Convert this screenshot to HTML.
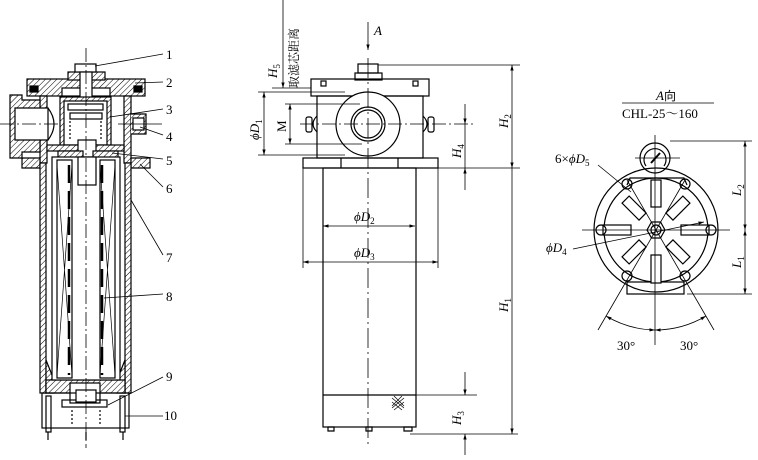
<!DOCTYPE html>
<html><head><meta charset="utf-8"><style>
html,body{margin:0;padding:0;background:#fff;}
svg{display:block;}
text{font-family:"Liberation Serif","Noto Serif CJK SC",serif;fill:#000;}
</style></head><body>
<svg width="758" height="460" viewBox="0 0 758 460" xmlns="http://www.w3.org/2000/svg">
<defs>
<pattern id="h" width="4" height="4" patternUnits="userSpaceOnUse" patternTransform="rotate(45)">
<rect width="4" height="4" fill="#fff"/><line x1="0" y1="0" x2="0" y2="4" stroke="#000" stroke-width="1"/></pattern>
<marker id="a" viewBox="0 0 10 10" refX="10" refY="5" markerWidth="7" markerHeight="7" orient="auto-start-reverse"><path d="M0,2 L10,5 L0,8 z" fill="#000"/></marker>
</defs>
<g fill="none" stroke="#000" stroke-width="1.2">
<!-- LEFT section view -->
<!-- top cover -->
<rect x="27" y="79" width="118" height="17" fill="url(#h)"/>
<rect x="68" y="72" width="37" height="8" fill="url(#h)"/>
<rect x="62" y="88" width="48" height="8" fill="#fff"/>
<rect x="30" y="86" width="8" height="6" fill="#000"/>
<rect x="134" y="86" width="8" height="6" fill="#000"/>
<rect x="75" y="64" width="21" height="8" fill="#fff"/>
<rect x="80" y="72" width="12" height="26" fill="#fff"/>
<!-- head body -->
<path d="M40,96 H47 V163 H40 Z" fill="url(#h)"/>
<path d="M124,96 H131 V163 H124 Z" fill="url(#h)"/>
<path d="M10,95 H22 V100 H40 V152 H22 V158 H10 Z" fill="url(#h)"/>
<path d="M15,108 H48 V140 H15 Z" fill="#fff"/>
<path d="M48,108 Q60,124 48,140"/>
<path d="M131,114 H146 V134 H131" fill="url(#h)"/>
<rect x="133" y="118" width="11" height="12" fill="#fff"/>
<!-- internal bypass valve -->
<rect x="60" y="97" width="51" height="52" fill="url(#h)"/>
<rect x="64" y="101" width="43" height="44" fill="#fff"/>
<rect x="68" y="104" width="35" height="6"/>
<rect x="70" y="113" width="32" height="6"/>
<line x1="70" y1="121" x2="70" y2="140" stroke-dasharray="2,2"/>
<line x1="101" y1="121" x2="101" y2="140" stroke-dasharray="2,2"/>
<rect x="47" y="145" width="77" height="6" fill="url(#h)"/>
<rect x="78" y="140" width="18" height="45" fill="#fff"/>
<rect x="58" y="151" width="25" height="8" fill="url(#h)"/>
<rect x="93" y="151" width="25" height="8" fill="url(#h)"/>
<!-- flange 6 -->
<path d="M22,158 H40 V168 H22 Z" fill="url(#h)"/>
<path d="M131,158 H150 V168 H131 Z" fill="url(#h)"/>
<!-- tube -->
<rect x="40" y="163" width="6" height="230" fill="url(#h)"/>
<rect x="125" y="163" width="6" height="230" fill="url(#h)"/>
<path d="M46,360 L54,380 V393 H46 Z" fill="url(#h)"/>
<path d="M125,360 L117,380 V393 H125 Z" fill="url(#h)"/>
<rect x="46" y="380" width="79" height="13" fill="url(#h)"/>
<rect x="70" y="383" width="30" height="20" fill="#fff"/>
<!-- element -->
<rect x="52" y="157" width="68" height="223" fill="#fff"/>
<rect x="57" y="160" width="15" height="218"/>
<rect x="100" y="160" width="15" height="218"/>
<rect x="78" y="157" width="18" height="28" fill="#fff"/>
<path d="M57,165 L72,375 M72,165 L57,375 M100,165 L115,375 M115,165 L100,375" stroke-width="0.7"/>
<line x1="69" y1="165" x2="69" y2="375" stroke-width="2.5" stroke-dasharray="18,8"/>
<line x1="102" y1="165" x2="102" y2="375" stroke-width="2.5" stroke-dasharray="18,8"/>
<!-- bottom -->
<rect x="42" y="393" width="87" height="35"/>
<rect x="62" y="400" width="45" height="7"/>
<rect x="76" y="390" width="20" height="12" fill="#fff"/>
<line x1="72" y1="410" x2="72" y2="425" stroke-dasharray="2,2"/>
<line x1="100" y1="410" x2="100" y2="425" stroke-dasharray="2,2"/>
<rect x="46" y="396" width="5" height="36"/>
<rect x="120" y="396" width="5" height="36"/>
<line x1="48" y1="432" x2="48" y2="440"/><line x1="86" y1="432" x2="86" y2="440"/><line x1="123" y1="432" x2="123" y2="440"/>
<line x1="86" y1="48" x2="86" y2="448" stroke-width="0.8" stroke-dasharray="14,3,2,3"/>
<line x1="0" y1="124" x2="58" y2="124" stroke-width="0.8" stroke-dasharray="14,3,2,3"/>
<line x1="118" y1="124" x2="162" y2="124" stroke-width="0.8"/>
<!-- leaders -->
<g stroke-width="0.8">
<line x1="95" y1="66" x2="163" y2="54"/><line x1="135" y1="83" x2="163" y2="82"/>
<line x1="110" y1="117" x2="163" y2="109"/><line x1="140" y1="127" x2="163" y2="135"/>
<line x1="112" y1="153" x2="163" y2="159"/><line x1="140" y1="164" x2="163" y2="187"/>
<line x1="131" y1="200" x2="163" y2="255"/><line x1="104" y1="298" x2="163" y2="294"/>
<line x1="108" y1="405" x2="163" y2="377"/><line x1="125" y1="416" x2="163" y2="416"/>
</g>

<!-- MIDDLE view -->
<line x1="368" y1="22" x2="368" y2="50" marker-end="url(#a)" stroke-width="0.8"/>
<rect x="358" y="64" width="20" height="9"/>
<rect x="355" y="73" width="27" height="7"/>
<rect x="311" y="79" width="118" height="17"/>
<rect x="321" y="81" width="5" height="5"/><rect x="413" y="81" width="5" height="5"/>
<rect x="317" y="96" width="106" height="62"/>
<circle cx="368" cy="124" r="32" fill="#fff"/>
<circle cx="368" cy="124" r="17"/><circle cx="368" cy="124" r="14"/>
<path d="M317,116 Q309,124 317,132 M423,116 Q431,124 423,132"/>
<rect x="306" y="117" width="6" height="15" rx="2"/><rect x="428" y="117" width="6" height="15" rx="2"/>
<line x1="300" y1="124" x2="475" y2="124" stroke-width="0.8" stroke-dasharray="14,3,2,3"/>
<rect x="303" y="158" width="135" height="10"/>
<line x1="341" y1="158" x2="341" y2="168"/><line x1="398" y1="158" x2="398" y2="168"/>
<rect x="323" y="168" width="93" height="259"/>
<line x1="323" y1="395" x2="416" y2="395"/>
<path d="M392,398 l12,10 M392,402 l10,8 M394,396 l10,10 M404,398 l-12,10 M404,402 l-10,8 M402,396 l-10,10" stroke-width="0.7"/>
<path d="M328,427 h6 v4 h-6z M366,427 h6 v4 h-6z M404,427 h8 v4 h-8z"/>
<line x1="368" y1="58" x2="368" y2="445" stroke-width="0.8" stroke-dasharray="20,4,2,4"/>
<!-- dimensions -->
<g stroke-width="0.8">
<line x1="283" y1="0" x2="283" y2="88" marker-end="url(#a)"/>
<line x1="272" y1="88" x2="311" y2="88"/>
<line x1="258" y1="92" x2="345" y2="92"/><line x1="258" y1="155" x2="345" y2="155"/>
<line x1="264" y1="92" x2="264" y2="155" marker-start="url(#a)" marker-end="url(#a)"/>
<line x1="285" y1="104" x2="360" y2="104"/><line x1="285" y1="144" x2="362" y2="144"/>
<line x1="290" y1="104" x2="290" y2="144" marker-start="url(#a)" marker-end="url(#a)"/>
<line x1="465" y1="104" x2="465" y2="124" marker-end="url(#a)"/>
<line x1="465" y1="190" x2="465" y2="168" marker-end="url(#a)"/>
<line x1="438" y1="168" x2="520" y2="168"/>
<line x1="465" y1="124" x2="465" y2="168"/>
<line x1="378" y1="65" x2="520" y2="65"/>
<line x1="512" y1="65" x2="512" y2="168" marker-start="url(#a)" marker-end="url(#a)"/>
<line x1="512" y1="168" x2="512" y2="434" marker-end="url(#a)"/>
<line x1="410" y1="434" x2="518" y2="434"/>
<line x1="416" y1="395" x2="477" y2="395"/>
<line x1="465" y1="372" x2="465" y2="395" marker-end="url(#a)"/>
<line x1="465" y1="455" x2="465" y2="434" marker-end="url(#a)"/>
<line x1="323" y1="226" x2="415" y2="226" marker-start="url(#a)" marker-end="url(#a)"/>
<line x1="303" y1="168" x2="303" y2="268"/><line x1="438" y1="168" x2="438" y2="268"/>
<line x1="303" y1="262" x2="438" y2="262" marker-start="url(#a)" marker-end="url(#a)"/>
</g>

<!-- RIGHT view -->
<line x1="622" y1="103" x2="714" y2="103" stroke-width="0.8"/>
<circle cx="655" cy="158" r="15" fill="#fff"/>
<path d="M646,166 A11,11 0 1 1 664,166"/>
<line x1="651" y1="163" x2="660" y2="153" stroke-width="2"/>
<line x1="635" y1="158" x2="680" y2="158" stroke-width="0.7"/>
<circle cx="656" cy="230" r="62"/>
<circle cx="656" cy="230" r="52"/>
<path d="M627,185 L630,178 H684 L687,185"/>
<rect x="627" y="282" width="57" height="12"/>
<g fill="#fff">
<rect x="651" y="180" width="10" height="27"/><rect x="651" y="255" width="10" height="28"/>
<rect x="603" y="225" width="28" height="10"/><rect x="681" y="225" width="28" height="10"/>
<rect x="613" y="225" width="24" height="10" transform="rotate(45 656 230)"/>
<rect x="675" y="225" width="24" height="10" transform="rotate(45 656 230)"/>
<rect x="613" y="225" width="24" height="10" transform="rotate(-45 656 230)"/>
<rect x="675" y="225" width="24" height="10" transform="rotate(-45 656 230)"/>
</g>
<circle cx="601" cy="230" r="5"/><circle cx="711" cy="230" r="5"/>
<circle cx="627" cy="184" r="5"/><circle cx="685" cy="184" r="5"/>
<circle cx="627" cy="276" r="5"/><circle cx="685" cy="276" r="5"/>
<polygon points="665,230 660.5,238 651.5,238 647,230 651.5,222 660.5,222" fill="#fff"/>
<circle cx="656" cy="230" r="5"/>
<line x1="582" y1="230" x2="730" y2="230" stroke-width="0.8"/>
<line x1="655" y1="135" x2="655" y2="345" stroke-width="0.8"/>
<g stroke-width="0.8">
<line x1="598" y1="330" x2="685" y2="180"/><line x1="714" y1="330" x2="627" y2="180"/>
<path d="M606,316 A100,100 0 0 0 655,330" marker-start="url(#a)" marker-end="url(#a)"/>
<path d="M706,316 A100,100 0 0 1 655,330" marker-start="url(#a)" marker-end="url(#a)"/>
<line x1="670" y1="141" x2="752" y2="141"/><line x1="687" y1="294" x2="752" y2="294"/>
<line x1="745" y1="141" x2="745" y2="230" marker-start="url(#a)" marker-end="url(#a)"/>
<line x1="745" y1="230" x2="745" y2="294" marker-start="url(#a)" marker-end="url(#a)"/>
<line x1="598" y1="165" x2="631" y2="192"/>
<line x1="573" y1="249" x2="704" y2="222" marker-end="url(#a)"/>
</g>
</g>
<!-- text -->
<g font-size="13">
<text x="166" y="59">1</text><text x="166" y="87">2</text><text x="166" y="114">3</text>
<text x="166" y="141">4</text><text x="166" y="165">5</text><text x="166" y="193">6</text>
<text x="166" y="262">7</text><text x="166" y="301">8</text><text x="166" y="381">9</text>
<text x="164" y="420">10</text>
<text x="374" y="35" font-style="italic">A</text>
<text transform="translate(277,78) rotate(-90)" font-style="italic">H<tspan font-size="9" dy="3" font-style="normal">5</tspan></text>
<text transform="translate(298,88) rotate(-90)" font-size="12" font-family="Noto Sans CJK SC,sans-serif">取滤芯距离</text>
<text transform="translate(259,140) rotate(-90)" font-style="italic">ϕD<tspan font-size="9" dy="3" font-style="normal">1</tspan></text>
<text transform="translate(286,132) rotate(-90)">M</text>
<text transform="translate(461,158) rotate(-90)" font-style="italic">H<tspan font-size="9" dy="3" font-style="normal">4</tspan></text>
<text transform="translate(508,128) rotate(-90)" font-style="italic">H<tspan font-size="9" dy="3" font-style="normal">2</tspan></text>
<text transform="translate(508,312) rotate(-90)" font-style="italic">H<tspan font-size="9" dy="3" font-style="normal">1</tspan></text>
<text transform="translate(461,425) rotate(-90)" font-style="italic">H<tspan font-size="9" dy="3" font-style="normal">3</tspan></text>
<text x="354" y="221" font-style="italic">ϕD<tspan font-size="9" dy="3" font-style="normal">2</tspan></text>
<text x="354" y="257" font-style="italic">ϕD<tspan font-size="9" dy="3" font-style="normal">3</tspan></text>
<text x="656" y="100" font-style="italic">A<tspan font-style="normal" font-family="Noto Sans CJK SC,sans-serif" font-size="12">向</tspan></text>
<text x="622" y="118">CHL-25～160</text>
<text x="555" y="163">6×<tspan font-style="italic">ϕD</tspan><tspan font-size="9" dy="3">5</tspan></text>
<text x="546" y="252" font-style="italic">ϕD<tspan font-size="9" dy="3" font-style="normal">4</tspan></text>
<text transform="translate(741,196) rotate(-90)" font-style="italic">L<tspan font-size="9" dy="3" font-style="normal">2</tspan></text>
<text transform="translate(741,268) rotate(-90)" font-style="italic">L<tspan font-size="9" dy="3" font-style="normal">1</tspan></text>
<text x="617" y="350">30°</text><text x="680" y="350">30°</text>
</g>
</svg>
</body></html>
